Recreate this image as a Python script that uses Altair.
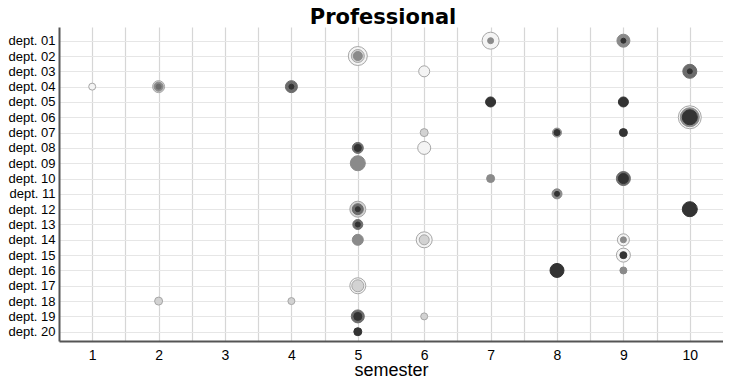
import altair as alt
import pandas as pd
import numpy as np

# Categories and tick labels
DEPTS = [f"dept. {i:02d}" for i in range(1, 21)]
SEMESTERS = list(range(1, 11))

# One entry per glyph (department number, semester)
PT_DEPT = [1, 1, 2, 3, 3, 4, 4, 4, 5, 5, 6, 7, 7, 7, 8, 8, 9, 10, 10, 11,
           12, 12, 13, 14, 14, 14, 15, 16, 16, 17, 18, 18, 19, 19, 20]
PT_SEM = [7, 9, 5, 6, 10, 1, 2, 4, 7, 9, 10, 6, 8, 9, 5, 6, 5, 7, 9, 8,
          5, 10, 5, 5, 6, 9, 9, 8, 9, 5, 2, 4, 5, 6, 5]

# Concentric rings of each glyph: magnitude and shade class (0 = absent)
OUTER_D = [17, 13, 19, 11, 14, 7, 12, 12, 10, 10, 23, 8, 9, 8, 11, 13, 15, 8, 14, 10,
           16, 15, 10, 11, 16, 12, 14, 14, 7, 16, 8, 7, 13, 7, 8]
OUTER_S = ["W", "G", "W", "W", "M", "W", "L", "M", "D", "D", "W", "L", "G", "D", "M", "W", "G", "G", "M", "G",
           "L", "D", "M", "G", "W", "W", "W", "D", "G", "W", "L", "L", "M", "L", "D"]
MID_D = [0, 0, 13, 0, 0, 0, 9, 0, 0, 0, 19, 0, 0, 0, 0, 0, 0, 0, 0, 0,
         11, 0, 0, 0, 10, 0, 0, 0, 0, 12, 0, 0, 0, 0, 0]
MID_S = ["", "", "L", "", "", "", "G", "", "", "", "G", "", "", "", "", "", "", "", "", "",
         "M", "", "", "", "L", "", "", "", "", "L", "", "", "", "", ""]
INNER_D = [6, 5, 9, 0, 5, 0, 5, 5, 0, 0, 15, 0, 6, 0, 7, 0, 0, 0, 10, 5,
           5, 0, 5, 0, 0, 6, 7, 0, 0, 0, 0, 0, 8, 0, 0]
INNER_S = ["G", "D", "G", "", "D", "", "M", "D", "", "", "D", "", "D", "", "D", "", "", "", "D", "D",
           "D", "", "D", "", "", "G", "D", "", "", "", "", "", "D", "", ""]

SHADES = ["W", "L", "G", "M", "D"]
FILLS = ["#f4f4f4", "#d2d2d2", "#8a8a8a", "#6c6c6c", "#333333"]
STROKES = ["#a6a6a6", "#a6a6a6", "#8a8a8a", "#6c6c6c", "#333333"]


def ring_rows(diams, shades, layer):
    rows = []
    for dep, sem, d, s in zip(PT_DEPT, PT_SEM, diams, shades):
        if d:
            rows.append({"dept": DEPTS[dep - 1], "semester": sem,
                         "diam": d, "shade": s, "layer": layer})
    return rows


df = pd.DataFrame(ring_rows(OUTER_D, OUTER_S, 0)
                  + ring_rows(MID_D, MID_S, 1)
                  + ring_rows(INNER_D, INNER_S, 2))

grid_values = [float(v) for v in np.arange(1, 10.01, 0.5)]

chart = alt.Chart(df).mark_point(
    shape="circle", strokeWidth=1, fillOpacity=1, strokeOpacity=1, opacity=1
).encode(
    x=alt.X("semester:Q",
            scale=alt.Scale(domain=[0.5, 10.5], nice=False, zero=False),
            axis=alt.Axis(values=grid_values,
                          labelExpr="datum.value % 1 === 0 ? format(datum.value, 'd') : ''",
                          title="semester", titleFontSize=18, titleFontWeight="normal",
                          titleFont="Liberation Sans", titleColor="black",
                          titleY=34, titleBaseline="alphabetic",
                          labelFont="Liberation Sans", labelFontSize=14, labelColor="black",
                          labelPadding=7, ticks=False, domainColor="#555555", domainWidth=2,
                          grid=True, gridColor="#d6d6d6", gridWidth=1.2)),
    y=alt.Y("dept:N", sort=DEPTS,
            scale=alt.Scale(type="point", padding=0.75, align=0.596, domain=DEPTS),
            axis=alt.Axis(title=None, labelFont="Liberation Sans", labelFontSize=13,
                          labelColor="black", labelPadding=4, ticks=False,
                          domainColor="#555555", domainWidth=2,
                          grid=True, gridColor="#e6e6e6", gridWidth=1.2)),
    size=alt.Size("diam:Q", scale=alt.Scale(type="pow", exponent=2, domain=[0, 24], range=[0, 576]),
                  legend=None),
    fill=alt.Fill("shade:N", scale=alt.Scale(domain=SHADES, range=FILLS), legend=None),
    stroke=alt.Stroke("shade:N", scale=alt.Scale(domain=SHADES, range=STROKES), legend=None),
    order=alt.Order("layer:Q"),
).properties(
    width=664, height=314,
    autosize="none",
    padding={"left": 51, "top": 19, "right": 0, "bottom": 37},
    title=alt.TitleParams("Professional", font="DejaVu Sans", fontSize=21, fontWeight="bold",
                          color="black", anchor="middle", dx=-8, dy=1, offset=0),
).configure_view(stroke=None)

chart.save("out.html", embed_options={"renderer": "svg", "actions": False})
